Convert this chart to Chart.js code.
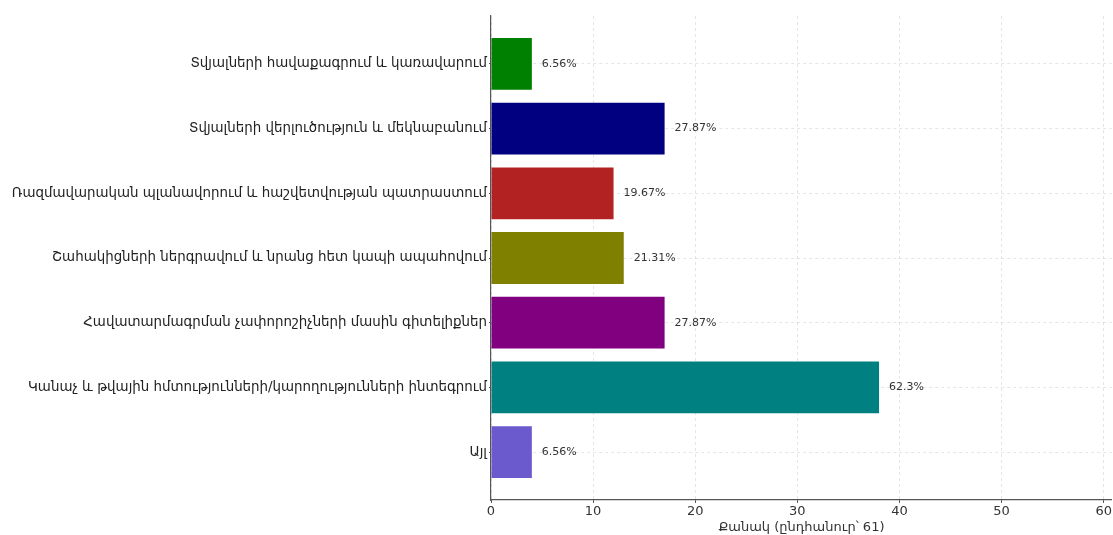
<!DOCTYPE html>
<html>
<head>
<meta charset="utf-8">
<script src="https://cdn.jsdelivr.net/npm/chart.js@4.4.1/dist/chart.umd.min.js"></script>
<style>
  html, body { margin: 0; padding: 0; background: #ffffff; overflow: hidden; }
  #wrap { position: relative; width: 1113px; height: 535px; }
</style>
</head>
<body>
<div id="wrap"><canvas id="c"></canvas></div>
<script>
const categories = [
  "Տվյալների հավաքագրում և կառավարում",
  "Տվյալների վերլուծություն և մեկնաբանում",
  "Ռազմավարական պլանավորում և հաշվետվության պատրաստում",
  "Շահակիցների ներգրավում և նրանց հետ կապի ապահովում",
  "Հավատարմագրման չափորոշիչների մասին գիտելիքներ",
  "Կանաչ և թվային հմտությունների/կարողությունների ինտեգրում",
  "Այլ"
];
const counts = [4, 17, 12, 13, 17, 38, 4];
const total = 61;
const barColors = ["#008000", "#000080", "#B22222", "#808000", "#800080", "#008080", "#6A5ACD"];
const xTicks = [0, 10, 20, 30, 40, 50, 60];
const xTitle = "Քանակ (ընդհանուր՝ 61)";

const FONT = "'DejaVu Sans', sans-serif";
const points = counts.map((v, i) => ({ x: v, y: i }));

const valueLabels = {
  id: 'valueLabels',
  afterDraw(chart) {
    const ctx = chart.ctx;
    const meta = chart.getDatasetMeta(0);
    ctx.save();
    ctx.font = "11px " + FONT;
    ctx.fillStyle = "#333333";
    ctx.textAlign = "left";
    ctx.textBaseline = "middle";
    meta.data.forEach((bar, i) => {
      const pct = parseFloat((counts[i] / total * 100).toFixed(2));
      ctx.fillText(pct + "%", bar.x + 10, bar.y);
    });
    ctx.restore();
  }
};

new Chart(document.getElementById('c'), {
  type: 'bar',
  data: {
    datasets: [{
      data: points,
      backgroundColor: barColors,
      borderWidth: 0,
      barPercentage: 0.8,
      categoryPercentage: 1.0
    }]
  },
  options: {
    indexAxis: 'y',
    responsive: true,
    maintainAspectRatio: false,
    animation: false,
    layout: { padding: { left: 0, right: 0, top: 16, bottom: 0 } },
    plugins: { legend: { display: false }, tooltip: { enabled: false } },
    scales: {
      x: {
        type: 'linear',
        min: 0,
        max: 60.8,
        z: 1,
        afterBuildTicks: (s) => { s.ticks = xTicks.map(v => ({ value: v })); },
        afterFit: (s) => { s.height = 35; },
        ticks: { color: "#333333", font: { family: FONT, size: 13 }, padding: 1, maxRotation: 0, autoSkip: false },
        grid: { color: "rgba(0,0,0,0.10)", tickLength: 3, tickColor: "#555555", drawTicks: true },
        border: { display: true, color: "#555555", width: 1.2, dash: [3, 3] },
        title: { display: true, text: xTitle, color: "#333333", font: { family: FONT, size: 13 }, padding: { top: 0, bottom: 0 } }
      },
      y: {
        type: 'linear',
        reverse: true,
        offset: false,
        min: -0.74,
        max: 6.74,
        z: 1,
        afterBuildTicks: (s) => { s.ticks = categories.map((_, i) => ({ value: i })); },
        afterFit: (s) => { s.width = 491; },
        ticks: {
          color: "#222222",
          font: { family: FONT, size: 13.4 },
          padding: 2,
          autoSkip: false,
          callback: (v) => categories[v] !== undefined ? categories[v] : ''
        },
        grid: { offset: false, color: "rgba(0,0,0,0.10)", tickLength: 2, tickColor: "#555555", drawTicks: true },
        border: { display: true, color: "#555555", width: 1.2, dash: [3, 3] }
      }
    }
  },
  plugins: [valueLabels]
});
</script>
</body>
</html>
